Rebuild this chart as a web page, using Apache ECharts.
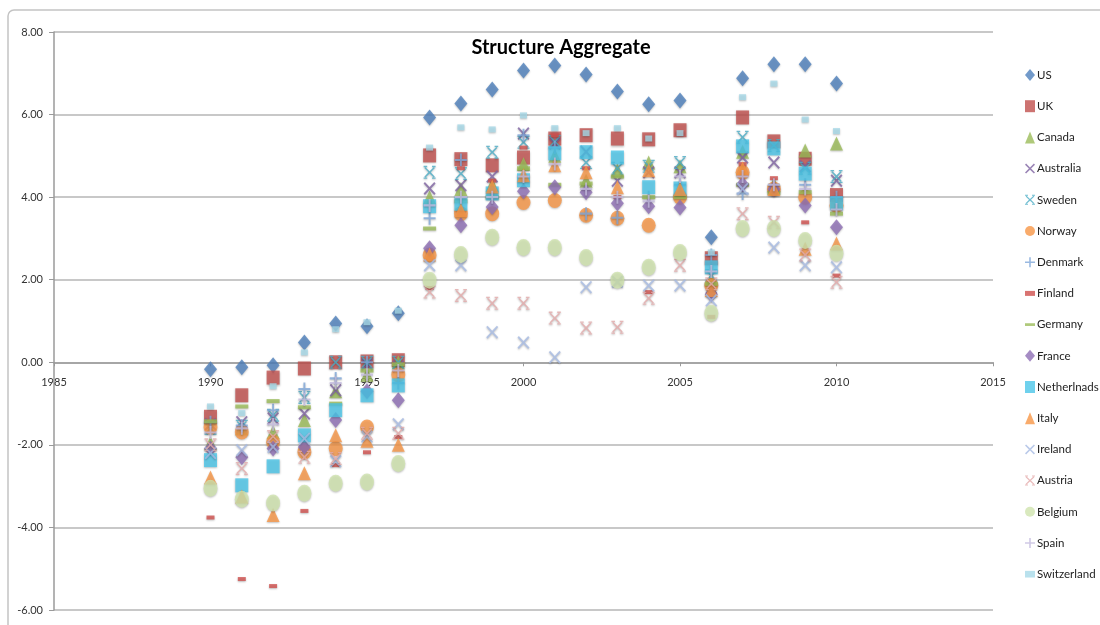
<!DOCTYPE html>
<html>
<head>
<meta charset="utf-8">
<script src="https://cdn.jsdelivr.net/npm/echarts@6/dist/echarts.min.js"></script>
<style>html,body{margin:0;padding:0;background:#fff;}#c{width:1100px;height:625px;}</style>
</head>
<body>
<div id="c"></div>
<script>
const years = [1990,1991,1992,1993,1994,1995,1996,1997,1998,1999,2000,2001,2002,2003,2004,2005,2006,2007,2008,2009,2010];
const countries = ['US','UK','Canada','Australia','Sweden','Norway','Denmark','Finland','Germany','France','Netherlnads','Italy','Ireland','Austria','Belgium','Spain','Switzerland'];
const US = [-0.17,-0.12,-0.07,0.48,0.94,0.87,1.19,5.93,6.27,6.61,7.07,7.19,6.97,6.56,6.25,6.34,3.03,6.88,7.22,7.22,6.75];
const UK = [-1.32,-0.8,-0.37,-0.15,0.0,0.02,0.05,5.01,4.92,4.77,4.96,5.42,5.5,5.42,5.4,5.62,2.52,5.93,5.35,4.93,4.05];
const Canada = [-1.96,-1.6,-1.69,-1.4,-0.7,-0.3,0.0,4.0,4.2,4.3,4.8,5.0,4.4,4.65,4.84,4.75,2.0,5.1,4.3,5.13,5.3];
const Australia = [-1.5,-1.45,-1.36,-1.24,-0.68,-0.05,-0.1,4.21,4.29,4.5,5.54,5.3,5.1,4.4,4.6,4.6,1.8,4.96,4.84,4.75,4.4];
const Sweden = [-1.6,-1.55,-1.28,-0.85,0.0,0.0,0.0,4.6,4.57,5.09,5.33,5.35,4.84,4.7,4.75,4.84,2.1,5.45,5.25,4.7,4.5];
const Norway = [-1.57,-1.69,-1.93,-2.17,-2.09,-1.57,-0.3,2.6,3.6,3.6,3.87,3.92,3.56,3.49,3.32,4.0,1.86,4.6,4.2,4.0,3.8];
const Denmark = [-1.45,-1.53,-1.16,-0.65,-0.39,0.0,-0.5,3.49,4.9,4.0,5.5,5.2,3.6,3.5,4.0,4.3,2.6,4.09,4.3,4.3,4.0];
const Finland = [-3.76,-5.25,-5.42,-3.6,-2.49,-2.18,-1.81,1.8,4.7,4.4,5.2,5.5,4.7,4.0,1.7,5.55,1.1,4.8,4.46,3.39,2.1];
const Germany = [-1.43,-1.07,-0.94,-1.09,-1.0,-0.2,-0.05,3.24,3.9,4.0,4.7,4.3,4.33,4.5,4.0,4.0,1.9,4.3,4.1,4.12,3.6];
const France = [-2.09,-2.3,-2.09,-2.05,-1.4,-0.7,-0.92,2.76,3.32,3.76,4.14,4.24,4.12,3.85,3.78,3.75,1.65,4.31,4.2,3.8,3.27];
const Netherlnads = [-2.37,-2.98,-2.52,-1.77,-1.16,-0.8,-0.56,3.78,3.84,4.09,4.41,5.06,5.09,4.96,4.24,4.21,2.3,5.23,5.18,4.57,3.85];
const Italy = [-2.79,-3.25,-3.7,-2.69,-1.77,-1.9,-2.0,2.61,3.68,4.26,4.53,4.77,4.6,4.24,4.65,4.2,1.75,4.7,4.2,2.75,2.88];
const Ireland = [-2.2,-2.13,-2.05,-1.85,-2.4,-1.8,-1.5,2.35,2.35,0.73,0.48,0.12,1.82,1.95,1.86,1.86,1.5,4.2,2.78,2.35,2.3];
const Austria = [-2.0,-2.57,-1.8,-2.3,-2.33,-1.72,-1.72,1.7,1.62,1.43,1.43,1.07,0.83,0.85,1.55,2.35,1.9,3.6,3.39,2.6,1.94];
const Belgium = [-3.05,-3.32,-3.41,-3.17,-2.93,-2.9,-2.45,1.99,2.61,3.03,2.78,2.78,2.54,1.99,2.3,2.66,1.19,3.24,3.24,2.95,2.64];
const Spain = [-1.7,-1.6,-1.5,-0.9,-0.5,-0.3,-0.2,3.8,4.0,4.0,4.5,4.8,4.2,4.0,3.9,4.5,2.2,4.5,4.3,4.2,3.7];
const Switzerland = [-1.07,-1.23,-0.58,0.24,0.8,0.97,1.25,5.2,5.69,5.64,5.98,5.67,5.55,5.67,5.42,5.55,2.66,6.42,6.75,5.88,5.6];
const yTicks = [-6,-4,-2,0,2,4,6,8];
const xTicks = [1985,1990,1995,2000,2005,2010,2015];

const values = {US,UK,Canada,Australia,Sweden,Norway,Denmark,Finland,Germany,France,Netherlnads,Italy,Ireland,Austria,Belgium,Spain,Switzerland};

const X = 'path://M0,1.1 L1.1,0 L5,3.9 L8.9,0 L10,1.1 L6.1,5 L10,8.9 L8.9,10 L5,6.1 L1.1,10 L0,8.9 L3.9,5 Z';
const XBAR = 'path://M0,0 H3 V1 H0 Z M7,0 H10 V1 H7 Z M0,9 H3 V10 H0 Z M7,9 H10 V10 H7 Z M0.6,1.6 L1.6,1 L5,4.1 L8.4,1 L9.4,1.6 L6,5 L9.4,8.4 L8.4,9 L5,5.9 L1.6,9 L0.6,8.4 L4,5 Z';
const PLUS = 'path://M4.2,0 H5.8 V4.2 H10 V5.8 H5.8 V10 H4.2 V5.8 H0 V4.2 H4.2 Z';
const DASH_S = 'path://M0,0 H6 V3 H0 Z';
const DASH_L = 'path://M0,0 H11 V3 H0 Z';

const styles = {
  US:{symbol:'diamond',size:[13,16],color:'#4F81BD'},
  UK:{symbol:'rect',size:[13,14],color:'#C0504D'},
  Canada:{symbol:'triangle',size:[13,14],color:'#9BBB59'},
  Australia:{symbol:X,size:[12,13],color:'#8064A2'},
  Sweden:{symbol:XBAR,size:[12,13],color:'#4BACC6'},
  Norway:{symbol:'circle',size:[14,15],color:'#F79646'},
  Denmark:{symbol:PLUS,size:[12,13],color:'#7FA7DA'},
  Finland:{symbol:DASH_S,size:[8,4],color:'#D0504D'},
  Germany:{symbol:DASH_L,size:[13,4],color:'#9BBB59'},
  France:{symbol:'diamond',size:[13,16],color:'#8E6FB5'},
  Netherlnads:{symbol:'rect',size:[13,14],color:'#4BC6E8'},
  Italy:{symbol:'triangle',size:[13,14],color:'#F79646'},
  Ireland:{symbol:X,size:[12,13],color:'#A8BCE4'},
  Austria:{symbol:XBAR,size:[12,13],color:'#E4AAAA'},
  Belgium:{symbol:'circle',size:[14,17],color:'#CFE3AE'},
  Spain:{symbol:PLUS,size:[12,13],color:'#C4BCDE'},
  Switzerland:{symbol:'rect',size:[7,6],color:'#A8DAE8'}
};

const legendIcons = {
  US:'diamond', UK:'rect', Canada:'triangle', France:'diamond', Netherlnads:'rect', Italy:'triangle',
  Norway:'circle', Belgium:'circle', Switzerland:'path://M0,0 H6 V4 H0 Z'
};

const series = countries.map(n => ({
  name:n, type:'scatter',
  symbol:styles[n].symbol, symbolSize:styles[n].size,
  itemStyle:{color:styles[n].color, shadowBlur:2, shadowColor:'rgba(0,0,0,0.3)', shadowOffsetY:1},
  data: years.map((y,i)=>[y, values[n][i]])
}));

const G = {left:54, right:107, top:32, bottom:15};
const H = 625 - G.top - G.bottom;
const yMin = yTicks[0], yMax = yTicks[yTicks.length-1];
const zeroFromBottom = H * (0 - yMin) / (yMax - yMin);

const chart = echarts.init(document.getElementById('c'));
chart.setOption({
  animation:false,
  backgroundColor:'#fff',
  graphic:[{type:'rect', shape:{x:8,y:10,width:1110,height:640,r:6}, style:{fill:'none',stroke:'#c4c4c4',lineWidth:1.5}, silent:true}],
  title:{text:'Structure Aggregate', left:556, top:33, textAlign:'center',
    textStyle:{fontFamily:'Lato', fontWeight:'bold', fontSize:20, color:'#000'}},
  legend:{orient:'vertical', left:1020, top:64, itemGap:19.2, itemWidth:10, itemHeight:12, itemSymbolKeepAspect:true,
    textStyle:{fontFamily:'Lato', fontSize:11.5, color:'#222', padding:[0,0,0,-3]},
    data:countries.map(n => legendIcons[n] ? {name:n, icon:legendIcons[n]} : {name:n})},
  grid:Object.assign({containLabel:false, outerBoundsMode:'none'}, G),
  xAxis:{type:'value', min:xTicks[0], max:xTicks[xTicks.length-1], interval:5, position:'bottom',
    offset:-zeroFromBottom,
    axisLine:{onZero:false, lineStyle:{color:'#9a9a9a', width:1.5}},
    axisTick:{show:true, length:4, lineStyle:{color:'#9a9a9a'}},
    splitLine:{show:false},
    axisLabel:{color:'#333', fontFamily:'Lato', fontSize:11, margin:15, formatter:v=>String(v)}},
  yAxis:{type:'value', min:yMin, max:yMax, interval:2,
    axisLine:{show:true, onZero:false, lineStyle:{color:'#9a9a9a', width:1.5}},
    axisTick:{show:true, length:5, lineStyle:{color:'#9a9a9a'}},
    splitLine:{show:true, lineStyle:{color:'#c8c8c8', width:2}},
    axisLabel:{color:'#333', fontFamily:'Lato', fontSize:11, margin:11, formatter:v=>v.toFixed(2)}},
  series
});
</script>
</body>
</html>
